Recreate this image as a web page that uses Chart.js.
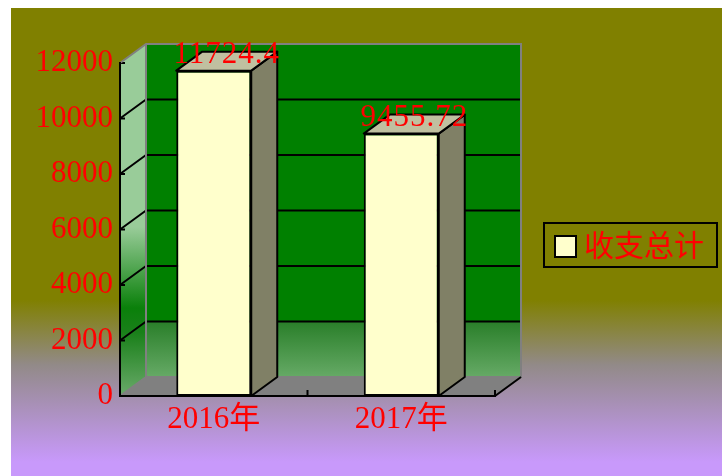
<!DOCTYPE html>
<html>
<head>
<meta charset="utf-8">
<script src="https://cdn.jsdelivr.net/npm/chart.js@4/dist/chart.umd.min.js"></script>
<style>
  html, body { margin: 0; padding: 0; background: #fff; }
  canvas { display: block; }
</style>
</head>
<body>
<canvas id="chart" width="722" height="476"></canvas>
<script>
  const categories = ['2016年', '2017年'];
  const totals = [11724.4, 9455.72];
  const seriesLabel = '收支总计';
  const yTicks = [0, 2000, 4000, 6000, 8000, 10000, 12000];

  const DX = 26, DY = 19; // profondeur 3D
  const serif = '"Liberation Serif", "Noto Sans CJK SC", serif';

  // fond, murs et sol (avant les axes)
  const walls = {
    id: 'walls',
    beforeDraw(chart) {
      const { ctx, chartArea: a, scales: { y } } = chart;
      ctx.save();
      ctx.fillStyle = '#fff';
      ctx.fillRect(0, 0, chart.width, chart.height);
      const bg = ctx.createLinearGradient(0, 300, 0, 462);
      bg.addColorStop(0, '#808000');
      bg.addColorStop(0.4, '#928a88');
      bg.addColorStop(1, '#c899fb');
      ctx.fillStyle = bg;
      ctx.fillRect(11, 8, chart.width - 11, chart.height - 8);

      const top = y.getPixelForValue(12000), bot = y.getPixelForValue(0);

      // mur du fond
      const gw = ctx.createLinearGradient(0, top - DY, 0, bot - DY);
      gw.addColorStop(0, '#008000');
      gw.addColorStop(0.83, '#008000');
      gw.addColorStop(0.835, '#2a7f2a');
      gw.addColorStop(1, '#66aa66');
      ctx.fillStyle = gw;
      ctx.fillRect(a.left + DX, top - DY, a.right - a.left, bot - top);

      // mur de gauche
      const gs = ctx.createLinearGradient(0, top - DY, 0, bot);
      gs.addColorStop(0, '#99cc99');
      gs.addColorStop(0.52, '#99cc99');
      gs.addColorStop(0.75, '#0a800a');
      gs.addColorStop(0.82, '#1a801a');
      gs.addColorStop(1, '#6aaa6a');
      ctx.fillStyle = gs;
      ctx.beginPath();
      ctx.moveTo(a.left, top);
      ctx.lineTo(a.left + DX, top - DY);
      ctx.lineTo(a.left + DX, bot - DY);
      ctx.lineTo(a.left, bot);
      ctx.closePath();
      ctx.fill();

      // sol
      ctx.fillStyle = '#808080';
      ctx.beginPath();
      ctx.moveTo(a.left, bot);
      ctx.lineTo(a.left + DX, bot - DY);
      ctx.lineTo(a.right + DX, bot - DY);
      ctx.lineTo(a.right, bot);
      ctx.closePath();
      ctx.fill();

      // quadrillage
      ctx.strokeStyle = '#000';
      ctx.lineWidth = 2;
      yTicks.slice(1, -1).forEach(v => {
        const py = y.getPixelForValue(v);
        ctx.beginPath();
        ctx.moveTo(a.left + DX, py - DY);
        ctx.lineTo(a.right + DX, py - DY);
        ctx.moveTo(a.left, py);
        ctx.lineTo(a.left + DX, py - DY);
        ctx.stroke();
      });
      ctx.beginPath();
      yTicks.forEach(v => {
        const py = y.getPixelForValue(v);
        ctx.moveTo(a.left, py);
        ctx.lineTo(a.left + 5, py);
      });
      ctx.stroke();

      // arêtes grises
      ctx.strokeStyle = '#808080';
      ctx.beginPath();
      ctx.moveTo(a.left, top);
      ctx.lineTo(a.left + DX, top - DY);
      ctx.lineTo(a.right + DX, top - DY);
      ctx.lineTo(a.right + DX, bot - DY);
      ctx.lineTo(a.left + DX, bot - DY);
      ctx.lineTo(a.left + DX, top - DY);
      ctx.moveTo(a.left, bot);
      ctx.lineTo(a.left + DX, bot - DY);
      ctx.stroke();
      ctx.restore();
    },
    afterDraw(chart) {
      const { ctx, chartArea: a, scales: { y } } = chart;
      const bot = y.getPixelForValue(0);
      ctx.save();
      ctx.strokeStyle = '#000';
      ctx.lineWidth = 2;
      ctx.beginPath();
      ctx.moveTo(a.right, bot);
      ctx.lineTo(a.right + DX, bot - DY);
      // petits traits entre catégories
      const step = (a.right - a.left) / categories.length;
      for (let i = 1; i <= categories.length; i++) {
        ctx.moveTo(a.left + step * i, bot);
        ctx.lineTo(a.left + step * i, bot - 6);
      }
      ctx.stroke();

      // légende
      ctx.strokeRect(544, 223, 173, 44);
      ctx.fillStyle = '#ffffcc';
      ctx.fillRect(555, 236, 21, 21);
      ctx.strokeRect(555, 236, 21, 21);
      ctx.fillStyle = '#ff0000';
      ctx.font = '30px "Noto Sans CJK SC", sans-serif';
      ctx.textBaseline = 'middle';
      ctx.textAlign = 'left';
      ctx.fillText(chart.data.datasets[0].label, 584, 245);
      ctx.restore();
    }
  };

  // faces latérales et dessus des barres + étiquettes
  const bars3d = {
    id: 'bars3d',
    afterDatasetsDraw(chart) {
      const { ctx } = chart;
      const meta = chart.getDatasetMeta(0);
      ctx.save();
      ctx.strokeStyle = '#000';
      ctx.lineWidth = 2;
      ctx.lineJoin = 'round';
      meta.data.forEach((bar, i) => {
        const l = bar.x - bar.width / 2, r = bar.x + bar.width / 2;
        const t = bar.y, b = bar.base;
        ctx.fillStyle = '#808066';
        ctx.beginPath();
        ctx.moveTo(r, t);
        ctx.lineTo(r + DX, t - DY);
        ctx.lineTo(r + DX, b - DY);
        ctx.lineTo(r, b);
        ctx.closePath();
        ctx.fill();
        ctx.stroke();
        ctx.fillStyle = '#c0c0a0';
        ctx.beginPath();
        ctx.moveTo(l, t);
        ctx.lineTo(l + DX, t - DY);
        ctx.lineTo(r + DX, t - DY);
        ctx.lineTo(r, t);
        ctx.closePath();
        ctx.fill();
        ctx.stroke();

        ctx.fillStyle = '#ff0000';
        ctx.font = '31px ' + serif;
        ctx.textAlign = 'center';
        ctx.textBaseline = 'alphabetic';
        ctx.letterSpacing = '1px';
        ctx.fillText(String(totals[i]), bar.x + DX / 2, t - 8);
      });
      ctx.restore();
    }
  };

  new Chart(document.getElementById('chart'), {
    type: 'bar',
    data: {
      labels: categories,
      datasets: [{
        label: seriesLabel,
        data: totals,
        backgroundColor: '#ffffcc',
        borderColor: '#000',
        borderWidth: 2,
        borderSkipped: false,
        categoryPercentage: 1,
        barPercentage: 0.4
      }]
    },
    options: {
      responsive: false,
      animation: false,
      layout: { padding: { left: 0, top: 63, right: 227, bottom: 0 } },
      plugins: { legend: { display: false }, tooltip: { enabled: false } },
      scales: {
        x: {
          grid: { display: false, drawTicks: false },
          border: { display: true, color: '#000', width: 2 },
          ticks: { color: '#ff0000', padding: 5, font: { family: serif, size: 31 } },
          afterFit: s => { s.height = 80; }
        },
        y: {
          min: 0,
          max: 12000,
          grid: { display: false, drawTicks: false },
          border: { display: true, color: '#000', width: 2 },
          ticks: {
            stepSize: 2000,
            color: '#ff0000',
            padding: 7,
            font: { family: serif, size: 31 },
            callback: v => String(v)
          },
          afterBuildTicks: s => { s.ticks = yTicks.map(v => ({ value: v })); },
          afterFit: s => { s.width = 120; }
        }
      }
    },
    plugins: [walls, bars3d]
  });
</script>
</body>
</html>
